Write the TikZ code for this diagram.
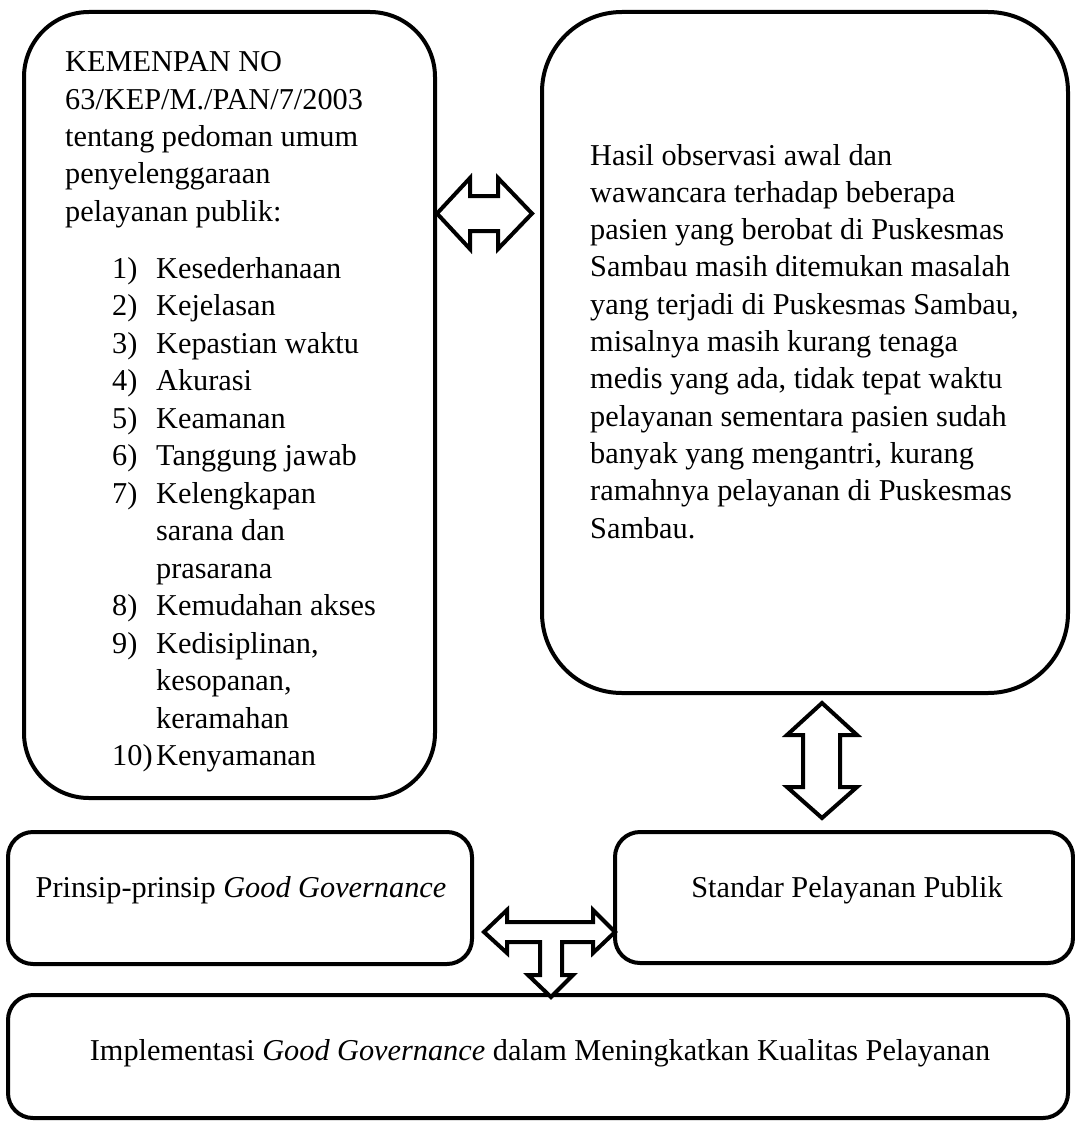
\documentclass[tikz,border=0pt]{standalone}
\usepackage{fontspec}
\setmainfont{Liberation Serif}
\begin{document}
\begin{tikzpicture}[x=1pt,y=-1pt,
  box/.style={draw=black, line width=4pt, inner sep=0pt, outer sep=0pt},
  txt/.style={anchor=base west, inner sep=0pt, font=\fontsize{30.3}{37}\selectfont},
  ctxt/.style={anchor=base, inner sep=0pt, font=\fontsize{30.3}{37}\selectfont},
  blockarrow/.style={draw=black, line width=4pt, fill=white, line join=miter}]
\useasboundingbox (0,0) rectangle (1075,1121);
\fill[white] (0,0) rectangle (1075,1121);

% boxes
\node[box, rounded corners=65pt, minimum width=411pt, minimum height=786pt] (kep) at (229.5,405) {};
\node[box, rounded corners=80pt, minimum width=526pt, minimum height=681pt] (hasil) at (805,352.5) {};
\node[box, rounded corners=25pt, minimum width=464pt, minimum height=132pt] (prinsip) at (240,898) {};
\node[box, rounded corners=25pt, minimum width=458pt, minimum height=131pt] (standar) at (844,897.5) {};
\node[box, rounded corners=25pt, minimum width=1060pt, minimum height=123pt] (impl) at (538,1056.5) {};

% left box header
\foreach \t [count=\i from 0] in {{KEMENPAN NO},{63/KEP/M./PAN/7/2003},{tentang pedoman umum},{penyelenggaraan},{pelayanan publik:}}
  \node[txt] (h\i) at (65,72+\i*37.3) {\t};

% list numbers
\foreach \n/\k in {1)/0,2)/1,3)/2,4)/3,5)/4,6)/5,7)/6,8)/9,9)/10,10)/13}
  \node[txt] (n\k) at (112,278+\k*37.5) {\n};
% list items
\foreach \t [count=\i from 0] in {Kesederhanaan,Kejelasan,{Kepastian waktu},Akurasi,Keamanan,{Tanggung jawab},Kelengkapan,{sarana dan},prasarana,{Kemudahan akses},{Kedisiplinan,},{kesopanan,},keramahan,Kenyamanan}
  \node[txt] (it\i) at (156,278+\i*37.5) {\t};

% right box text
\foreach \t [count=\i from 0] in {{Hasil observasi awal dan},{wawancara terhadap beberapa},{pasien yang berobat di Puskesmas},{Sambau masih ditemukan masalah},{yang terjadi di Puskesmas Sambau,},{misalnya masih kurang tenaga},{medis yang ada, tidak tepat waktu},{pelayanan sementara pasien sudah},{banyak yang mengantri, kurang},{ramahnya pelayanan di Puskesmas},{Sambau.}}
  \node[txt] (r\i) at (590,165+\i*37.3) {\t};

% bottom texts
\node[ctxt] (prinsipT) at (241,897) {Prinsip-prinsip \textit{Good Governance}};
\node[ctxt] (standarT) at (847,897) {Standar Pelayanan Publik};
\node[ctxt] (implT) at (540,1060) {Implementasi \textit{Good Governance} dalam Meningkatkan Kualitas Pelayanan};

% left-right block arrow between top boxes
\draw[blockarrow] (437,213.5) -- (470,178) -- (470,196) -- (498,196) -- (498,178) -- (532,213.5)
  -- (498,249) -- (498,231) -- (470,231) -- (470,249) -- cycle;

% vertical block arrow
\draw[blockarrow] (822,703) -- (857,735) -- (840,735) -- (840,787) -- (857,787) -- (822,818)
  -- (787,787) -- (803,787) -- (803,735) -- (787,735) -- cycle;

% T-shaped block arrow
\draw[blockarrow] (484,932) -- (507,910) -- (507,922) -- (593,922) -- (593,910) -- (615,932)
  -- (593,953) -- (593,942) -- (562,942) -- (562,975) -- (573,975) -- (551,997)
  -- (528,975) -- (540,975) -- (540,942) -- (507,942) -- (507,953) -- cycle;
\end{tikzpicture}
\end{document}
